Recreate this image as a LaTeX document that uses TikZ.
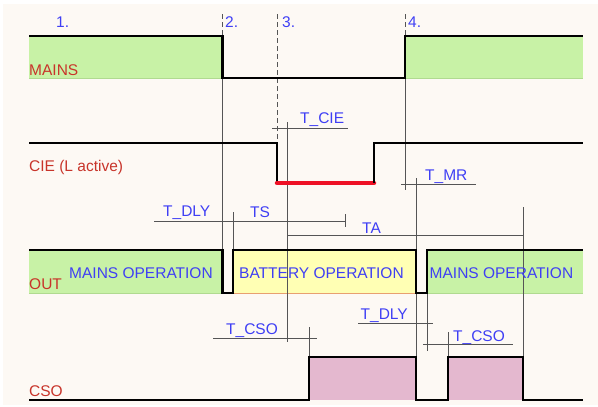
\documentclass[tikz,border=0pt]{standalone}
\usepackage{fontspec}
\setmainfont{Liberation Sans}
\definecolor{bgc}{HTML}{FDF9F4}
\definecolor{grn}{HTML}{C8F2A6}
\definecolor{grnedge}{HTML}{B0DA90}
\definecolor{ylw}{HTML}{FFFFB4}
\definecolor{ylwedge}{HTML}{E8A070}
\definecolor{pnk}{HTML}{E4B8CF}
\definecolor{pnkedge}{HTML}{B02030}
\definecolor{txtblue}{HTML}{3F3FF4}
\definecolor{sigred}{HTML}{C8342A}
\definecolor{barred}{HTML}{EE1125}
\definecolor{thingray}{HTML}{555555}
\begin{document}
\begin{tikzpicture}[x=1pt,y=-1pt,
  sig/.style={line width=2.2pt, draw=black, line join=miter},
  thinln/.style={line width=0.8pt, draw=thingray},
  dsh/.style={line width=0.8pt, draw=thingray, dash pattern=on 5pt off 3pt},
  redlbl/.style={anchor=base west, inner sep=0pt, font=\fontsize{15.5}{18}\selectfont, text=sigred},
  bluelbl/.style={anchor=base west, inner sep=0pt, font=\fontsize{15.5}{18}\selectfont, text=txtblue}]
\useasboundingbox (0,0) rectangle (598,407);
\fill[white] (0,0) rectangle (598,407);
\fill[bgc] (3,4) rectangle (598,405);
% fills
\fill[grn] (29,36) rectangle (222.5,78);
\fill[grn] (405,36) rectangle (583,78);
\fill[grn] (29,250) rectangle (222.5,293);
\fill[ylw] (233,250) rectangle (416,293);
\fill[grn] (427,250) rectangle (583,293);
\fill[pnk] (309,357) rectangle (416,400);
\fill[pnk] (448,357) rectangle (523,400);
\draw[grnedge, line width=0.6pt] (29,78) -- (222.5,78) (405,78) -- (583,78) (29,293) -- (222.5,293) (427,293) -- (583,293);
\draw[ylwedge, line width=0.6pt] (233,293) -- (416,293);
% thin reference lines
\draw[dsh] (222.5,14) -- (222.5,36);
\draw[thinln] (222.5,78) -- (222.5,250);
\draw[dsh] (277,14) -- (277,143);
\draw[dsh] (405,14) -- (405,36);
\draw[thinln] (405,78) -- (405,190);
\draw[thinln] (287,122) -- (287,342);
\draw[thinln] (272,128) -- (348,128);
\draw[thinln] (154,221) -- (345,221) (345,214) -- (345,227);
\draw[thinln] (233,212) -- (233,250);
\draw[thinln] (287,235) -- (523,235) (523,207) -- (523,357);
\draw[thinln] (401,184) -- (476,184) (416,178) -- (416,357);
\draw[thinln] (213,338) -- (317,338) (309,327) -- (309,357);
\draw[thinln] (358,323) -- (433,323) (427,293) -- (427,351);
\draw[thinln] (423,344) -- (513,344) (448,332) -- (448,357);
% signals
\draw[sig] (29,36) -- (222.5,36) -- (222.5,78) -- (405,78) -- (405,36) -- (583,36);
\draw[sig] (29,143) -- (277,143) -- (277,183);
\draw[barred, line width=4.5pt, line cap=round] (277,183) -- (374,183);
\draw[sig] (374,183) -- (374,143) -- (583,143);
\draw[sig] (29,250) -- (222.5,250) -- (222.5,293) -- (233,293) -- (233,250) -- (416,250) -- (416,293) -- (427,293) -- (427,250) -- (583,250);
\draw[sig] (29,400) -- (309,400) -- (309,357) -- (416,357) -- (416,400) -- (448,400) -- (448,357) -- (523,357) -- (523,400) -- (583,400);
% texts
\node[bluelbl] (n1) at (56,27) {1.};
\node[bluelbl] (n2) at (225,27) {2.};
\node[bluelbl] (n3) at (282,27) {3.};
\node[bluelbl] (n4) at (408,27) {4.};
\node[redlbl] (mains) at (29,75) {MAINS};
\node[redlbl] (cie) at (29,171) {CIE (L active)};
\node[redlbl] (out) at (29,289) {OUT};
\node[redlbl] (cso) at (29,396) {CSO};
\node[bluelbl] (tcie) at (300,123) {T\_CIE};
\node[bluelbl] (tdly1) at (163,216) {T\_DLY};
\node[bluelbl] (ts) at (250,217) {TS};
\node[bluelbl] (ta) at (362,233) {TA};
\node[bluelbl] (tmr) at (425,180) {T\_MR};
\node[bluelbl] (mop1) at (69,278) {MAINS OPERATION};
\node[bluelbl] (bop) at (239,278) {BATTERY OPERATION};
\node[bluelbl] (mop2) at (429.5,278) {MAINS OPERATION};
\node[bluelbl] (tcso1) at (226,334) {T\_CSO};
\node[bluelbl] (tdly2) at (360.5,319) {T\_DLY};
\node[bluelbl] (tcso2) at (453,341.5) {T\_CSO};
\end{tikzpicture}
\end{document}
